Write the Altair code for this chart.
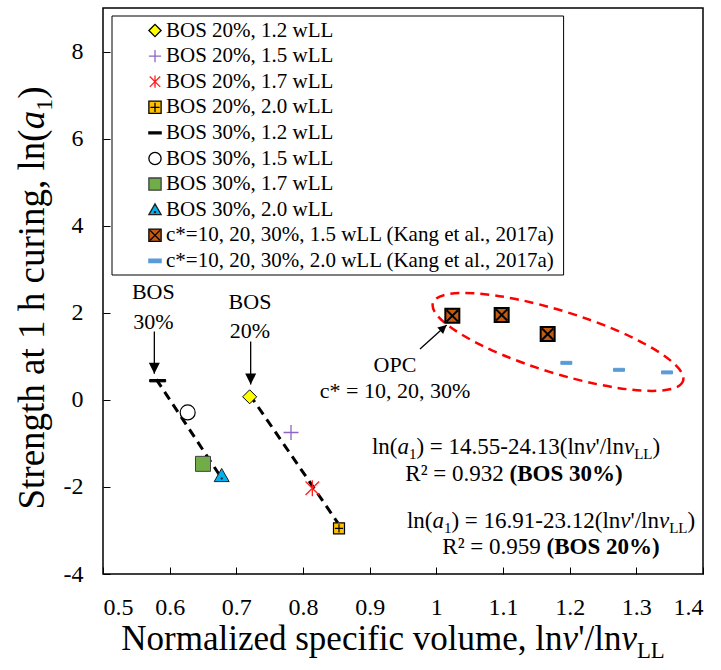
import altair as alt
import pandas as pd

# ---------------- data ----------------
labels = [
    "BOS 20%, 1.2 wLL", "BOS 20%, 1.5 wLL", "BOS 20%, 1.7 wLL", "BOS 20%, 2.0 wLL",
    "BOS 30%, 1.2 wLL", "BOS 30%, 1.5 wLL", "BOS 30%, 1.7 wLL", "BOS 30%, 2.0 wLL",
    "c*=10, 20, 30%, 1.5 wLL (Kang et al., 2017a)",
    "c*=10, 20, 30%, 2.0 wLL (Kang et al., 2017a)",
]
pt_series = [0, 1, 2, 3, 4, 5, 6, 7, 8, 8, 8, 9, 9, 9]
pt_x = [0.720, 0.782, 0.814, 0.854, 0.582, 0.627, 0.650, 0.678,
        1.024, 1.098, 1.167, 1.195, 1.274, 1.346]
pt_y = [0.07, -0.75, -2.03, -2.95, 0.44, -0.29, -1.47, -1.74,
        1.93, 1.95, 1.51, 0.85, 0.69, 0.63]

reg_group = ["BOS 30%", "BOS 30%", "BOS 20%", "BOS 20%"]
reg_x = [0.580, 0.678, 0.720, 0.852]
reg_y = [0.47, -1.80, 0.12, -2.82]

x_ticks = [0.5, 0.6, 0.7, 0.8, 0.9, 1.0, 1.1, 1.2, 1.3, 1.4]
y_ticks = [-4, -2, 0, 2, 4, 6, 8]

# arrows (start -> tip)
arrow_x = [0.577, 0.7215, 0.9755]
arrow_y = [1.57, 1.34, 1.17]
arrow_x2 = [0.577, 0.7215, 1.0155]
arrow_y2 = [0.60, 0.35, 1.72]

# dashed ellipse around the Kang et al. data
ell_x = [1.1825]
ell_y = [1.33]

# ---------------- styles ----------------
PLUS = "M -1 0 L 1 0 M 0 -1 L 0 1"
STAR = "M -0.85 -0.85 L 0.85 0.85 M -0.85 0.85 L 0.85 -0.85 M 0 -1 L 0 1"
SQPLUS = "M -1 -1 L 1 -1 L 1 1 L -1 1 Z M -0.75 0 L 0.75 0 M 0 -0.75 L 0 0.75"
DASH = "M -1 -0.15 L 1 -0.15 L 1 0.15 L -1 0.15 Z"
TRI = "M 0 -0.95 L 1 0.8 L -1 0.8 Z M -0.08 0.3 L 0.08 0.3 L 0.08 0.46 L -0.08 0.46 Z"
SQX = "M -1 -1 L 1 -1 L 1 1 L -1 1 Z M -0.8 -0.8 L 0.8 0.8 M -0.8 0.8 L 0.8 -0.8"
BDASH = "M -1 -0.27 L 1 -0.27 L 1 0.27 L -1 0.27 Z"
HEAD = "M 0 0 L 0.5 1 L -0.5 1 Z"
K = 0.5523
R = 0.237
ELL = (f"M 1 0 C 1 {K*R:.4f} {K:.4f} {R} 0 {R} C {-K:.4f} {R} -1 {K*R:.4f} -1 0 "
       f"C -1 {-K*R:.4f} {-K:.4f} {-R} 0 {-R} C {K:.4f} {-R} 1 {-K*R:.4f} 1 0 Z")

fill_colors = ["#FFFF00", "transparent", "transparent", "#FFC000", "#000000",
               "#FFFFFF", "#70AD47", "#00B0F0", "#C55A11", "#5B9BD5"]
stroke_colors = ["#000000", "#8B65C8", "#FF2020", "#000000", "#000000",
                 "#000000", "#404040", "#202020", "#000000", "#5B9BD5"]
shape_paths = ["diamond", PLUS, STAR, SQPLUS, DASH, "circle", "square", TRI, SQX, BDASH]
plot_sizes = [196, 225, 256, 121, 256, 225, 225, 225, 196, 121]
stroke_widths = [1, 1.3, 1.3, 1.2, 1, 1.2, 1, 1, 2, 1]

FONT = "Liberation Serif"

# ---------------- geometry helpers (pixel -> data) ----------------
PL, PT, PW, PH = 103, 8, 600, 566
XMIN, XMAX, YMIN, YMAX = 0.5, 1.4, -4, 9


def xd(px):
    return XMIN + (px - PL) / PW * (XMAX - XMIN)


def yd(py):
    return YMAX - (py - PT) / PH * (YMAX - YMIN)


W_REG = {' ': 250, '(': 333, ')': 333, '*': 500, ',': 250, '-': 333, '.': 250, '/': 278,
         '=': 564, '%': 833, "'": 180, '²': 300, 'B': 667, 'C': 667, 'K': 722, 'L': 611,
         'N': 722, 'O': 722, 'P': 556, 'R': 667, 'S': 556, 'a': 444, 'c': 444, 'd': 500,
         'e': 444, 'f': 333, 'g': 500, 'h': 500, 'i': 278, 'l': 278, 'm': 778, 'n': 500,
         'o': 500, 'p': 500, 'r': 333, 's': 389, 't': 278, 'u': 500, 'v': 500, 'w': 722,
         'z': 444}
for d in "0123456789":
    W_REG[d] = 500
W_ITA = {'a': 500, 'v': 444}
W_BOLD = {' ': 250, '(': 333, ')': 333, 'B': 667, 'O': 778, 'S': 556, '%': 1000}
for d in "0123456789":
    W_BOLD[d] = 500


def seg_w(text, style, fs):
    if style == "sub":
        return sum(W_REG.get(c, 500) for c in text) * fs * 0.65 / 1000
    table = W_ITA if style == "i" else (W_BOLD if style == "b" else W_REG)
    return sum(table.get(c, W_REG.get(c, 500)) for c in text) * fs / 1000


def horiz_rows(parts, cx, base_py, fs):
    widths = [seg_w(t, s, fs) for t, s in parts]
    left = cx - sum(widths) / 2
    rows = []
    for (t, s), w in zip(parts, widths):
        rows.append({"x": xd(left), "y": yd(base_py), "text": t, "style": s})
        left += w
    return rows


def vert_rows(parts, cy, base_px, fs):
    widths = [seg_w(t, s, fs) for t, s in parts]
    bottom = cy + sum(widths) / 2
    rows = []
    for (t, s), w in zip(parts, widths):
        rows.append({"x": xd(base_px), "y": yd(bottom), "text": t, "style": s})
        bottom -= w
    return rows


# ---------------- scales / axes ----------------
xs = alt.Scale(domain=[XMIN, XMAX], nice=False, zero=False)
ys = alt.Scale(domain=[YMIN, YMAX], nice=False, zero=False)
x_axis = alt.Axis(values=x_ticks, labelExpr="datum.value + ''", title=None, grid=False,
                  domain=False, tickSize=7, offset=-7, labelPadding=21, labelFont=FONT,
                  labelFontSize=24, labelColor="black", tickColor="black", tickWidth=1)
y_axis = alt.Axis(values=y_ticks, labelExpr="datum.value + ''", title=None, grid=False,
                  domain=False, tickSize=7, offset=-7, labelPadding=20, labelFont=FONT,
                  labelFontSize=24, labelColor="black", tickColor="black", tickWidth=1)

fill_scale = alt.Scale(domain=labels, range=fill_colors)
stroke_scale = alt.Scale(domain=labels, range=stroke_colors)
shape_scale = alt.Scale(domain=labels, range=shape_paths)


def X(field):
    return alt.X(field, type="quantitative", scale=xs, axis=x_axis)


def Y(field):
    return alt.Y(field, type="quantitative", scale=ys, axis=y_axis)


# ---------------- layers ----------------
df_pts = pd.DataFrame({"series": [labels[i] for i in pt_series], "x": pt_x, "y": pt_y})
df_reg = pd.DataFrame({"grp": reg_group, "x": reg_x, "y": reg_y})
df_arr = pd.DataFrame({"x": arrow_x, "y": arrow_y, "x2": arrow_x2, "y2": arrow_y2})

reg = alt.Chart(df_reg).mark_line(color="black", strokeDash=[9, 6], strokeWidth=3).encode(
    x=X("x"), y=Y("y"), detail="grp:N")

pts = alt.Chart(df_pts).mark_point(filled=True, opacity=1).encode(
    x=X("x"), y=Y("y"),
    fill=alt.Fill("series:N", scale=fill_scale, legend=None),
    stroke=alt.Stroke("series:N", scale=stroke_scale, legend=None),
    shape=alt.Shape("series:N", scale=shape_scale, legend=None),
    size=alt.Size("series:N", scale=alt.Scale(type="ordinal", domain=labels, range=plot_sizes),
                  legend=None),
    strokeWidth=alt.StrokeWidth("series:N", scale=alt.Scale(type="ordinal", domain=labels,
                                                            range=stroke_widths), legend=None),
)

ell = alt.Chart(pd.DataFrame({"x": ell_x, "y": ell_y})).mark_point(
    shape=ELL, size=68644, angle=17.3, color="#FF0000", strokeWidth=2.5,
    strokeDash=[9, 6], opacity=1, filled=False).encode(x=X("x"), y=Y("y"))

rules = alt.Chart(df_arr).mark_rule(color="black", strokeWidth=1.3).encode(
    x=X("x"), y=Y("y"), x2="x2", y2="y2")

heads_v = alt.Chart(df_arr.iloc[:2]).mark_point(
    shape=HEAD, size=484, angle=180, filled=True, color="black", opacity=1).encode(
    x=X("x2"), y=Y("y2"))
heads_o = alt.Chart(df_arr.iloc[2:]).mark_point(
    shape=HEAD, size=300, angle=48, filled=True, color="black", opacity=1).encode(
    x=X("x2"), y=Y("y2"))

# ---------------- legend (box, symbols through the same scales, labels) ----------------
LEG_FS = 21
LEG_LEFT, LEG_TOP, LEG_BOTTOM = 112, 16, 275
LEG_SYM_X, LEG_LAB_X, LEG_ROW0, LEG_STEP = 155, 166, 30.5, 25.6
leg_right = LEG_LAB_X + max(seg_w(t, "n", LEG_FS) for t in labels) + 9
df_box = pd.DataFrame({"x": [xd(LEG_LEFT)], "x2": [xd(leg_right)],
                       "y": [yd(LEG_TOP)], "y2": [yd(LEG_BOTTOM)]})
box = alt.Chart(df_box).mark_rect(fill="white", stroke="black", strokeWidth=1).encode(
    x=X("x"), x2="x2", y=Y("y"), y2="y2")
df_leg = pd.DataFrame({"series": labels,
                       "x": [xd(LEG_SYM_X)] * len(labels),
                       "lx": [xd(LEG_LAB_X)] * len(labels),
                       "y": [yd(LEG_ROW0 + LEG_STEP * k) for k in range(len(labels))]})
leg_sym = alt.Chart(df_leg).mark_point(filled=True, opacity=1, size=150, strokeWidth=1.3).encode(
    x=X("x"), y=Y("y"),
    fill=alt.Fill("series:N", scale=fill_scale, legend=None),
    stroke=alt.Stroke("series:N", scale=stroke_scale, legend=None),
    shape=alt.Shape("series:N", scale=shape_scale, legend=None),
)
leg_lab = alt.Chart(df_leg).mark_text(align="left", baseline="middle", font=FONT,
                                      fontSize=LEG_FS, color="black").encode(
    x=X("lx"), y=Y("y"), text="series:N")

# simple annotations
ann_text = ["BOS", "30%", "BOS", "20%", "OPC", "c* = 10, 20, 30%"]
ann_px = [153.3, 153.3, 250, 250, 395, 395]
ann_py = [299, 329, 309, 337.5, 372, 398]
df_ann = pd.DataFrame({"x": [xd(p) for p in ann_px], "y": [yd(p) for p in ann_py],
                       "text": ann_text})
ann = alt.Chart(df_ann).mark_text(align="center", baseline="alphabetic", font=FONT,
                                  fontSize=22, color="black").encode(
    x=X("x"), y=Y("y"), text="text:N")

# rich-text pieces
eq1 = [("ln(", "n"), ("a", "i"), ("1", "sub"), (") = 14.55-24.13(ln", "n"), ("v", "i"),
       ("'/ln", "n"), ("v", "i"), ("LL", "sub"), (")", "n")]
eq2 = [("ln(", "n"), ("a", "i"), ("1", "sub"), (") = 16.91-23.12(ln", "n"), ("v", "i"),
       ("'/ln", "n"), ("v", "i"), ("LL", "sub"), (")", "n")]
r1 = [("R² = 0.932 ", "n"), ("(BOS 30%)", "b")]
r2 = [("R² = 0.959 ", "n"), ("(BOS 20%)", "b")]
xtitle = [("Normalized specific volume, ln", "n"), ("v", "i"), ("'/ln", "n"), ("v", "i"),
          ("LL", "sub")]
ytitle = [("Strength at 1 h curing, ln(", "n"), ("a", "i"), ("1", "sub"), (")", "n")]

EQ_FS = 23
eq_rows = (horiz_rows(eq1, 516, 454, EQ_FS) + horiz_rows(r1, 514, 481, EQ_FS)
           + horiz_rows(eq2, 551, 527.5, EQ_FS) + horiz_rows(r2, 551, 554, EQ_FS))
XT_FS = 35
xt_rows = horiz_rows(xtitle, 393, 650, XT_FS)
YT_FS = 37
yt_rows = vert_rows(ytitle, 298, 43.5, YT_FS)


def text_layers(rows, fs, angle=None):
    df = pd.DataFrame(rows)
    out = []
    for st in ["n", "i", "sub", "b"]:
        part = df[df["style"] == st]
        if part.empty:
            continue
        kw = dict(align="left", baseline="alphabetic", font=FONT, fontSize=fs, color="black")
        if st == "i":
            kw["fontStyle"] = "italic"
        if st == "b":
            kw["fontWeight"] = "bold"
        if st == "sub":
            kw["fontSize"] = round(fs * 0.65, 1)
            kw["dy"] = round(fs * 0.22, 1)
        if angle is not None:
            kw["angle"] = angle
        out.append(alt.Chart(part.reset_index(drop=True)).mark_text(**kw).encode(
            x=X("x"), y=Y("y"), text="text:N"))
    return out


texts = text_layers(eq_rows, EQ_FS) + text_layers(xt_rows, XT_FS) + text_layers(yt_rows, YT_FS, 270)

chart = alt.layer(reg, ell, rules, heads_v, heads_o, ann, *texts, pts, box, leg_sym, leg_lab).properties(
    width=PW, height=PH,
    padding={"left": PL, "top": PT, "right": 721 - PL - PW, "bottom": 670 - PT - PH},
    autosize=alt.AutoSizeParams(type="none"),
).configure_view(stroke="black", strokeWidth=1.5)

chart.save("out.html", embed_options={"renderer": "svg", "actions": False})
